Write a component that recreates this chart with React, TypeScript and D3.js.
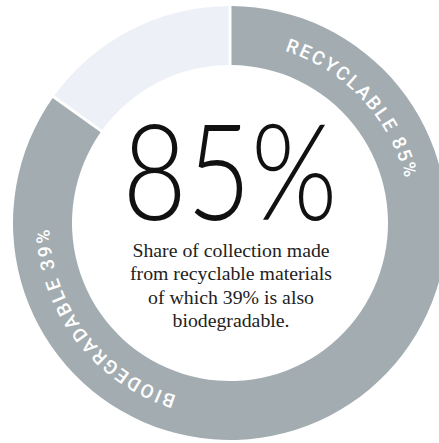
import React from "react";
import * as d3 from "d3";

const categories = ["Recyclable", "Other"];
const values = [85, 15];
const arcLabels = ["RECYCLABLE 85%", "BIODEGRADABLE 39%"];
const bigNumber = "85%";
const captionLines = [
  "Share of collection made",
  "from recyclable materials",
  "of which 39% is also",
  "biodegradable.",
];

const W = 439;
const H = 443;
const CX = 230;
const CY = 223;
const R_OUT = 217;
const R_IN = 158;
const COLORS = ["#a3adb1", "#edf1f7"];
// label centre angles in degrees (clockwise from 12 o'clock)
const LABEL_ANGLES = [47, 233];

export default function App() {
  const pie = d3
    .pie<number>()
    .sort(null)
    .value((d) => d)
    .padAngle(0.011);
  const arcs = pie(values);
  const arcGen = d3
    .arc<d3.PieArcDatum<number>>()
    .innerRadius(R_IN)
    .outerRadius(R_OUT);

  const rt = (R_IN + R_OUT) / 2;
  const circlePath = `M 0 ${-rt} A ${rt} ${rt} 0 1 1 0 ${rt} A ${rt} ${rt} 0 1 1 0 ${-rt}`;

  return (
    <svg
      width={W}
      height={H}
      style={{ position: "absolute", left: 0, top: 0, background: "#fff" }}
    >
      <g transform={`translate(${CX},${CY})`}>
        {arcs.map((a, i) => (
          <path key={categories[i]} d={arcGen(a) || ""} fill={COLORS[i]} />
        ))}
        <path id="labelCircle" d={circlePath} fill="none" />
        {arcLabels.map((t, i) => (
          <text
            key={t}
            fill="#ffffff"
            fontFamily="Roboto, 'Open Sans', sans-serif"
            fontWeight={500}
            fontSize={19}
            letterSpacing={2.6}
            dy="0.36em"
          >
            <textPath
              href="#labelCircle"
              startOffset={`${(LABEL_ANGLES[i] / 360) * 100}%`}
              textAnchor="middle"
            >
              {t}
            </textPath>
          </text>
        ))}
        <text
          x={0}
          y={-3}
          textAnchor="middle"
          fontFamily="Lato, 'Open Sans', sans-serif"
          fontWeight={300}
          fontSize={134}
          fill="#111"
          textLength={215}
          lengthAdjust="spacingAndGlyphs"
        >
          {bigNumber}
        </text>
        {captionLines.map((l, i) => (
          <text
            key={l}
            x={1}
            y={34 + i * 23.4}
            textAnchor="middle"
            fontFamily="'Liberation Serif', 'DejaVu Serif', serif"
            fontSize={19.8}
            fill="#222"
          >
            {l}
          </text>
        ))}
      </g>
    </svg>
  );
}
